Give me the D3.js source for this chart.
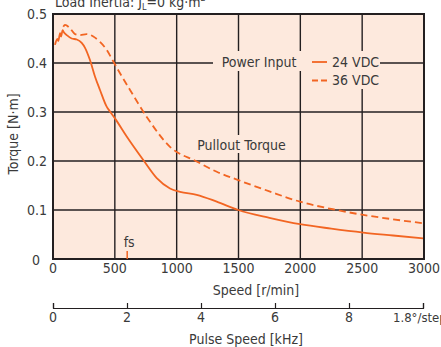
<!DOCTYPE html>
<html><head><meta charset="utf-8">
<script src="https://cdn.jsdelivr.net/npm/d3@7/dist/d3.min.js"></script>
<style>
html,body{margin:0;padding:0;background:#fff;}
svg text{font-family:"Liberation Sans Narrow","Arial Narrow","DejaVu Sans Condensed",sans-serif;fill:#3a3a3a;}
</style></head>
<body><svg id="c" width="441" height="347"></svg>
<script>
const speedTicks = [0,500,1000,1500,2000,2500,3000];
const torqueTicks = [0,0.1,0.2,0.3,0.4,0.5];
const pulseTicks = [0,2,4,6,8];
const speed24 = [16,35,43,57,65,78,89,111,151,192,232,259,299,340,380,434,461,501,596,730,839,946,1027,1162,1324,1498,1750,1997,2250,2509,2750,2994];
const torque24 = [0.437,0.449,0.445,0.461,0.454,0.467,0.462,0.457,0.450,0.448,0.441,0.431,0.406,0.372,0.345,0.311,0.301,0.287,0.250,0.202,0.165,0.144,0.137,0.131,0.117,0.100,0.084,0.071,0.062,0.054,0.048,0.042];
const speed36 = [83,97,137,178,218,272,326,380,434,488,542,623,758,946,1162,1324,1498,1750,1997,2294,2509,2750,2994];
const torque36 = [0.474,0.478,0.471,0.459,0.457,0.459,0.454,0.443,0.427,0.403,0.379,0.345,0.290,0.229,0.199,0.178,0.161,0.138,0.117,0.100,0.090,0.081,0.073];
const fsSpeed = 600;

const svg = d3.select("#c");
const L=53,R=424,T=14,B=259;
const FS=14;
const x = d3.scaleLinear().domain([0,3000]).range([L,R]);
const y = d3.scaleLinear().domain([0,0.5]).range([B,T]);
const xk = d3.scaleLinear().domain([0,10]).range([L,R-1]);
const orange="#f26522", dark="#231f20", fill="#fde9dd";

svg.append("rect").attr("x",L).attr("y",T).attr("width",R-L).attr("height",B-T).attr("fill",fill);
// grid
svg.append("g").selectAll("line").data(speedTicks.slice(1,-1)).join("line")
  .attr("x1",d=>x(d)).attr("x2",d=>x(d)).attr("y1",T).attr("y2",B).attr("stroke",dark).attr("stroke-width",1.4);
svg.append("g").selectAll("line").data(torqueTicks.slice(1,-1)).join("line")
  .attr("x1",L).attr("x2",R).attr("y1",d=>y(d)).attr("y2",d=>y(d)).attr("stroke",dark).attr("stroke-width",1.4);

// label backgrounds
svg.append("rect").attr("x",213).attr("y",51).attr("width",167).attr("height",20).attr("fill",fill);
svg.append("rect").attr("x",305).attr("y",70).attr("width",75).attr("height",19).attr("fill",fill);
svg.append("rect").attr("x",226).attr("y",135).attr("width",30).attr("height",18).attr("fill",fill);

// curves
const line = d3.line().x(d=>x(d[0])).y(d=>y(d[1])).curve(d3.curveMonotoneX);
svg.append("path").datum(speed36.map((s,i)=>[s,torque36[i]])).attr("d",line)
  .attr("fill","none").attr("stroke",orange).attr("stroke-width",1.8).attr("stroke-dasharray","7,4");
svg.append("path").datum(speed24.map((s,i)=>[s,torque24[i]])).attr("d",line)
  .attr("fill","none").attr("stroke",orange).attr("stroke-width",1.8);

// frame
svg.append("rect").attr("x",L).attr("y",T).attr("width",R-L).attr("height",B-T).attr("fill","none").attr("stroke",dark).attr("stroke-width",2);

// fs marker
svg.append("line").attr("x1",x(fsSpeed)).attr("x2",x(fsSpeed)).attr("y1",B-8).attr("y2",B).attr("stroke",orange).attr("stroke-width",1.5);
svg.append("text").attr("x",x(fsSpeed)+2).attr("y",247).attr("text-anchor","middle").attr("font-size",FS).text("fs");

// y tick labels
svg.append("g").selectAll("text").data(torqueTicks.slice(1)).join("text")
  .attr("x",47).attr("y",d=>y(d)+5).attr("text-anchor","end").attr("font-size",FS).text(d=>d.toFixed(1));
svg.append("text").attr("x",36).attr("y",265).attr("text-anchor","middle").attr("font-size",FS).text("0");
// x tick labels
svg.append("g").selectAll("text").data(speedTicks).join("text")
  .attr("x",d=>x(d)).attr("y",273).attr("text-anchor","middle").attr("font-size",FS).text(d=>d);
svg.append("text").attr("x",256).attr("y",295).attr("text-anchor","middle").attr("font-size",FS).text("Speed [r/min]");
svg.append("text").attr("transform","translate(18,134) rotate(-90)").attr("text-anchor","middle").attr("font-size",FS).text("Torque [N·m]");

// pulse speed axis
const ax = d3.axisTop(xk).tickValues([...pulseTicks,10]).tickSize(5).tickFormat("");
const g2 = svg.append("g").attr("transform","translate(0,308)").call(ax);
g2.select(".domain").attr("stroke",dark).attr("stroke-width",1.2);
g2.selectAll(".tick line").attr("stroke",dark).attr("stroke-width",1.2);
svg.append("g").selectAll("text").data(pulseTicks).join("text")
  .attr("x",d=>xk(d)).attr("y",322).attr("text-anchor","middle").attr("font-size",FS).text(d=>d);
svg.append("text").attr("x",393).attr("y",322).attr("font-size",13).text("1.8°/step");
svg.append("text").attr("x",246).attr("y",344).attr("text-anchor","middle").attr("font-size",FS).text("Pulse Speed [kHz]");

// title
const t = svg.append("text").attr("x",55).attr("y",7).attr("font-size",FS);
t.append("tspan").text("Load Inertia: J");
t.append("tspan").attr("font-size",9).attr("dy",3).text("L");
t.append("tspan").attr("dy",-3).text("=0 kg·m");
t.append("tspan").attr("font-size",9).attr("dy",-6).text("2");

// legend
svg.append("text").attr("x",259).attr("y",67).attr("text-anchor","middle").attr("font-size",FS).text("Power Input");
svg.append("line").attr("x1",312).attr("x2",327).attr("y1",62).attr("y2",62).attr("stroke",orange).attr("stroke-width",1.8);
svg.append("line").attr("x1",312).attr("x2",327).attr("y1",80.5).attr("y2",80.5).attr("stroke",orange).attr("stroke-width",1.8).attr("stroke-dasharray","6,3");
svg.append("text").attr("x",332).attr("y",67).attr("font-size",FS).text("24 VDC");
svg.append("text").attr("x",332).attr("y",85).attr("font-size",FS).text("36 VDC");
svg.append("text").attr("x",241.5).attr("y",150).attr("text-anchor","middle").attr("font-size",FS).text("Pullout Torque");
</script></body></html>
